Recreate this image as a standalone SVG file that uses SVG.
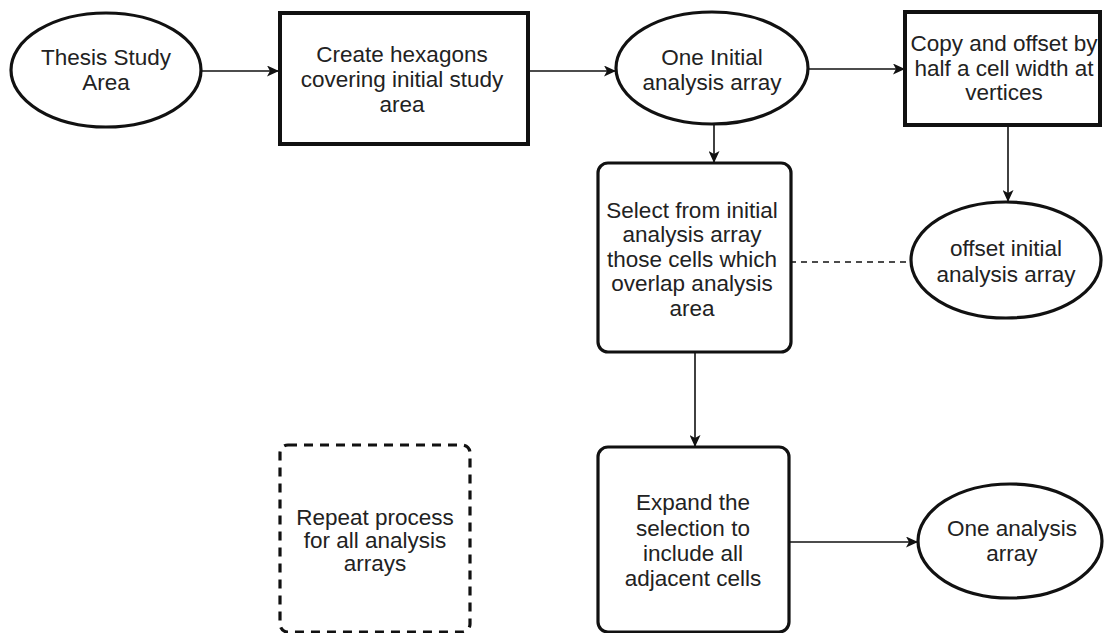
<svg xmlns="http://www.w3.org/2000/svg" width="1104" height="633" viewBox="0 0 1104 633">
<defs>
<marker id="arr" markerUnits="userSpaceOnUse" markerWidth="12" markerHeight="11" viewBox="0 0 12 11" refX="11" refY="5.5" orient="auto">
<path d="M0,0 L12,5.5 L0,11 L3,5.5 z" fill="#111"/>
</marker>
<style>
.n{fill:#fff;stroke:#111;stroke-width:3.2}
.b{fill:#fff;stroke:#111;stroke-width:4}
.t{font-family:"Liberation Sans",Arial,Helvetica,sans-serif;font-size:22.5px;fill:#222;text-anchor:middle}
.c{fill:none;stroke:#111;stroke-width:1.6}
</style>
</defs>
<rect width="1104" height="633" fill="#fff"/>
<g id="connectors">
<line class="c" x1="201" y1="71" x2="278" y2="71" marker-end="url(#arr)"/>
<line class="c" x1="528" y1="71" x2="615" y2="71" marker-end="url(#arr)"/>
<line class="c" x1="808" y1="69" x2="904" y2="69" marker-end="url(#arr)"/>
<line class="c" x1="1008" y1="125" x2="1008" y2="201" marker-end="url(#arr)"/>
<line class="c" x1="714" y1="124" x2="714" y2="162" marker-end="url(#arr)"/>
<line class="c" x1="790" y1="262" x2="911" y2="262" stroke-dasharray="6 5"/>
<line class="c" x1="695" y1="353" x2="695" y2="446" marker-end="url(#arr)"/>
<line class="c" x1="789" y1="542" x2="917" y2="542" marker-end="url(#arr)"/>
</g>
<g id="thesis">
<ellipse class="n" cx="106" cy="70" rx="95" ry="57"/>
<text class="t" x="106" y="65">Thesis Study</text>
<text class="t" x="106" y="90">Area</text>
</g>
<g id="hexagons">
<rect class="b" x="280" y="13" width="248" height="131"/>
<text class="t" x="402" y="62">Create hexagons</text>
<text class="t" x="402" y="87">covering initial study</text>
<text class="t" x="402" y="112">area</text>
</g>
<g id="initial">
<ellipse class="n" cx="712" cy="68" rx="96" ry="56"/>
<text class="t" x="712" y="65">One Initial</text>
<text class="t" x="712" y="90">analysis array</text>
</g>
<g id="copy">
<rect class="b" x="905" y="12" width="195" height="113"/>
<text class="t" x="1004" y="51">Copy and offset by</text>
<text class="t" x="1004" y="76">half a cell width at</text>
<text class="t" x="1004" y="100">vertices</text>
</g>
<g id="offset">
<ellipse class="n" cx="1006" cy="260" rx="95" ry="58"/>
<text class="t" x="1006" y="256">offset initial</text>
<text class="t" x="1006" y="282">analysis array</text>
</g>
<g id="select">
<rect class="n" x="598" y="163" width="193" height="189" rx="10"/>
<text class="t" x="692" y="217.5">Select from initial</text>
<text class="t" x="692" y="242">analysis array</text>
<text class="t" x="692" y="266.5">those cells which</text>
<text class="t" x="692" y="291">overlap analysis</text>
<text class="t" x="692" y="315.5">area</text>
</g>
<g id="expand">
<rect class="n" x="598" y="447" width="191" height="185" rx="10"/>
<text class="t" x="693" y="510">Expand the</text>
<text class="t" x="693" y="536">selection to</text>
<text class="t" x="693" y="561">include all</text>
<text class="t" x="693" y="586">adjacent cells</text>
</g>
<g id="final">
<ellipse class="n" cx="1010" cy="541" rx="92" ry="57"/>
<text class="t" x="1012" y="536">One analysis</text>
<text class="t" x="1012" y="561">array</text>
</g>
<g id="repeat">
<rect x="280" y="445" width="190" height="187" rx="8" fill="#fff" stroke="#111" stroke-width="3.2" stroke-dasharray="9 7"/>
<text class="t" x="375" y="525">Repeat process</text>
<text class="t" x="375" y="548">for all analysis</text>
<text class="t" x="375" y="571">arrays</text>
</g>
</svg>
